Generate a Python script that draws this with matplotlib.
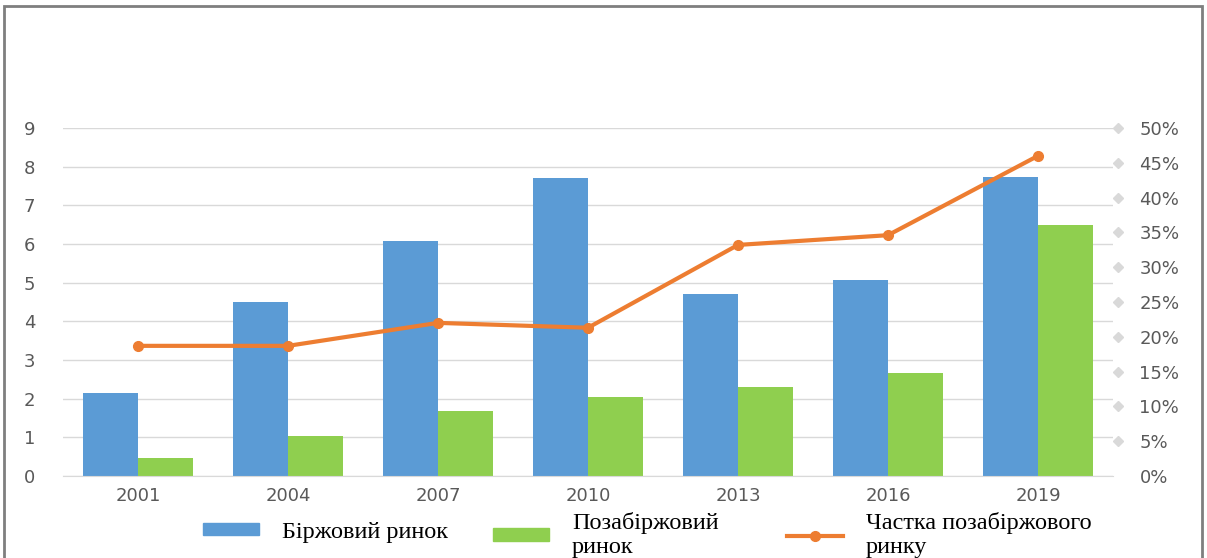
import matplotlib.pyplot as plt
import numpy as np
from matplotlib.patches import Rectangle
from matplotlib.lines import Line2D
from matplotlib.ticker import PercentFormatter

# Дані
years = ['2001', '2004', '2007', '2010', '2013', '2016', '2019']
birzh = [2.15, 4.5, 6.08, 7.7, 4.7, 5.07, 7.73]
pozabirzh = [0.47, 1.03, 1.68, 2.04, 2.3, 2.66, 6.49]
chastka = [18.7, 18.7, 22.0, 21.3, 33.2, 34.6, 46.0]

c_blue = '#5B9BD5'
c_green = '#8FCF4F'
c_orange = '#ED7D31'
c_grid = '#D9D9D9'
c_text = '#595959'

W, H = 1207, 558
fig = plt.figure(figsize=(W / 100, H / 100), dpi=100)
ax = fig.add_axes([63 / W, 82 / H, 1050 / W, 348 / H])
ax2 = ax.twinx()

x = np.arange(len(years))
w = 0.365
ax.bar(x - w / 2, birzh, w, color=c_blue, zorder=2)
ax.bar(x + w / 2, pozabirzh, w, color=c_green, zorder=2)

ax.set_ylim(0, 9)
ax.set_yticks(range(10))
ax.set_xlim(-0.5, 6.5)
ax.set_xticks(x)
ax.set_xticklabels(years)
ax.grid(axis='y', color=c_grid, linewidth=1, zorder=0)
ax.set_axisbelow(True)

ax2.plot(x, chastka, color=c_orange, linewidth=3, marker='o', markersize=7, zorder=3)
ax2.set_ylim(0, 50)
ax2.set_yticks(range(0, 55, 5))
ax2.yaxis.set_major_formatter(PercentFormatter(decimals=0))
# маленькі ромби праворуч
ax2.plot([6.53] * 10, range(5, 55, 5), linestyle='none', marker='D', markersize=5,
         color=c_grid, clip_on=False)

for a in (ax, ax2):
    for s in a.spines.values():
        s.set_visible(False)
ax.spines['bottom'].set_visible(True)
ax.spines['bottom'].set_color(c_grid)

tfont = 13
ax.tick_params(axis='x', length=0, pad=8, labelsize=tfont, labelcolor=c_text)
ax.tick_params(axis='y', length=0, pad=24, labelsize=tfont, labelcolor=c_text)
ax2.tick_params(axis='y', length=0, pad=19, labelsize=tfont, labelcolor=c_text)
for lbl in ax.get_yticklabels():
    lbl.set_horizontalalignment('center')

# рамка
fig.patches.append(Rectangle((4 / W, -0.02), 1198 / W, 1 - 6 / H + 0.02,
                             transform=fig.transFigure, fill=False,
                             edgecolor='#7F7F7F', linewidth=2))

# легенда - три окремі елементи
handles = [Rectangle((0, 0), 1, 1, color=c_blue),
           Rectangle((0, 0), 1, 1, color=c_green),
           Line2D([], [], color=c_orange, linewidth=3, marker='o', markersize=7)]
labels = ['Біржовий ринок', 'Позабіржовий\nринок', 'Частка позабіржового\nринку']
starts = [203, 493, 787]
for h, l, sx in zip(handles, labels, starts):
    top = 522 if '\n' not in l else 512
    fig.legend([h], [l], loc='upper left', bbox_to_anchor=(sx / W, 1 - top / H),
               frameon=False, prop={'family': 'Liberation Serif', 'size': 17.5},
               handlelength=2.3, handleheight=0.4, handletextpad=0.95,
               borderpad=0, borderaxespad=0, labelspacing=0)

fig.savefig('out.png', dpi=100)
